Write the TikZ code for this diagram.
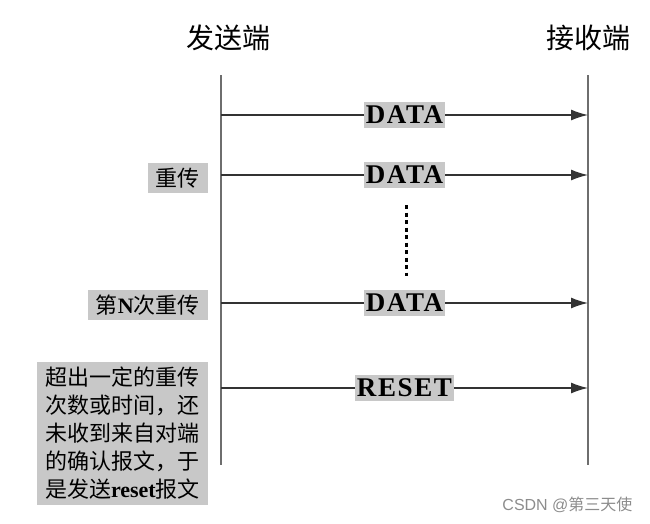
\documentclass[tikz,border=0pt]{standalone}
\usepackage{fontspec}
\setmainfont{Liberation Serif}
\setsansfont{Liberation Sans}
\newfontfamily\cjk{Noto Sans CJK SC}
\usetikzlibrary{positioning}
\usetikzlibrary{arrows.meta}
\usetikzlibrary{calc}

\definecolor{boxgray}{RGB}{200,200,200}
\definecolor{linegray}{RGB}{110,110,110}

\tikzset{
  timeline/.style={draw=linegray, line width=2pt},
  msg/.style={draw=black!80, line width=1.4pt, -{Latex[length=17pt,width=11pt]}},
  pkt/.style={fill=boxgray, inner xsep=2pt, inner ysep=4pt,
    font=\fontsize{27}{27}\selectfont\bfseries\addfontfeatures{LetterSpace=6}},
  note/.style={fill=boxgray, inner xsep=8pt, inner ysep=5pt, font=\cjk\fontsize{22}{28}\selectfont},
  title/.style={font=\cjk\fontsize{28}{28}\selectfont}
}

\begin{document}
\begin{tikzpicture}[x=1pt,y=-1pt]
  \useasboundingbox (0,0) rectangle (650,523);

  % the two ends
  \node[title] (snd) at (228,38) {发送端};
  \node[title] (rcv) at (588,38) {接收端};
  \coordinate (sTop) at (221,75);
  \coordinate (sBot) at (221,465);
  \coordinate (rTop) at (588,75);
  \coordinate (rBot) at (588,465);
  \draw[timeline] (sTop) -- (sBot);
  \draw[timeline] (rTop) -- (rBot);

  % messages: name / height / label
  \foreach \n/\y/\t in {m1/115/DATA, m2/175/DATA, m3/303/DATA, m4/388/RESET}
    {\coordinate (\n s) at (221,\y);
     \coordinate (\n r) at (588,\y);
     \draw[msg] (\n s) -- node[pkt] (\n lab) {\t} (\n r);}

  % dots between the retransmissions
  \coordinate (dTop) at (406,205);
  \coordinate (dBot) at (406,276);
  \draw[black, line width=3pt, dash pattern=on 4pt off 3.5pt] (dTop) -- (dBot);

  % notes on the sender side
  \node[note, anchor=east] (re1) at (208,178) {重传};
  \node[note, anchor=east] (reN) at (208,305) {第\textbf{\rmfamily N}次重传};
  \node[note, anchor=north east, align=left] (fail) at (208,362)
    {超出一定的重传\\次数或时间，还\\未收到来自对端\\的确认报文，于\\是发送{\rmfamily\bfseries reset}报文};

  \node[text=black!45, font=\sffamily\fontsize{16}{16}\selectfont, anchor=east] (wm) at (636,505)
    {CSDN @{\cjk 第三天使}};
\end{tikzpicture}
\end{document}
